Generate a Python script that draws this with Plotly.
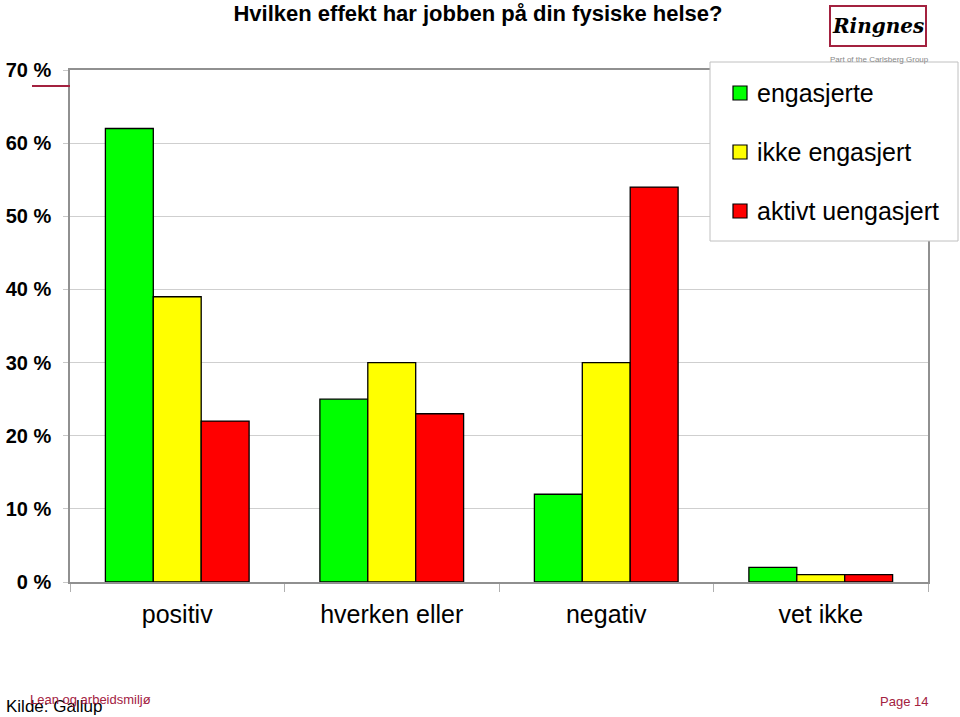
import plotly.graph_objects as go

categories = ["positiv", "hverken eller", "negativ", "vet ikke"]
series_names = ["engasjerte", "ikke engasjert", "aktivt uengasjert"]
engasjerte = [62, 25, 12, 2]
ikke_engasjert = [39, 30, 30, 1]
aktivt_uengasjert = [22, 23, 54, 1]
series_values = [engasjerte, ikke_engasjert, aktivt_uengasjert]
colors = ["#00ff00", "#ffff00", "#ff0000"]
y_tickvals = [0, 10, 20, 30, 40, 50, 60, 70]
y_ticktext = ["0 %", "10 %", "20 %", "30 %", "40 %", "50 %", "60 %", "70 %"]

W, H = 960, 717
L, R, T, B = 70, 32, 70, 135
PW = W - L - R
PH = H - T - B

def px(x):
    return (x - L) / PW

def py(y):
    return (H - B - y) / PH

fig = go.Figure()
for name, vals, c in zip(series_names, series_values, colors):
    fig.add_trace(go.Bar(
        x=categories, y=vals, name=name,
        marker=dict(color=c, line=dict(color="black", width=1.3)),
        showlegend=False,
    ))

font = "Liberation Sans, Arial, sans-serif"
shapes = []
annotations = []

# legend box
shapes.append(dict(type="rect", xref="paper", yref="paper",
                   x0=px(710), x1=px(958), y0=py(241), y1=py(62),
                   fillcolor="white", line=dict(color="#c0c0c0", width=1), layer="above"))
for i, (name, c) in enumerate(zip(series_names, colors)):
    yc = 93 + i * 59
    shapes.append(dict(type="rect", xref="paper", yref="paper",
                       x0=px(733), x1=px(747), y0=py(yc + 7), y1=py(yc - 7),
                       fillcolor=c, line=dict(color="black", width=1.2), layer="above"))
    annotations.append(dict(xref="paper", yref="paper", x=px(755), y=py(yc),
                            text=name, showarrow=False, xanchor="left", yanchor="middle",
                            font=dict(family=font, size=25, color="black")))

# decorative maroon line near 70 %
shapes.append(dict(type="line", xref="paper", yref="paper",
                   x0=px(32), x1=px(70), y0=py(86), y1=py(86),
                   line=dict(color="#a3213f", width=2)))

# logo
shapes.append(dict(type="rect", xref="paper", yref="paper",
                   x0=px(830), x1=px(926), y0=py(46), y1=py(6),
                   fillcolor="white", line=dict(color="#a3213f", width=2)))
annotations.append(dict(xref="paper", yref="paper", x=px(878), y=py(26),
                        text="<b><i>Ringnes</i></b>", showarrow=False,
                        xanchor="center", yanchor="middle",
                        font=dict(family="DejaVu Serif", size=20, color="black")))
annotations.append(dict(xref="paper", yref="paper", x=px(879), y=py(59),
                        text="Part of the Carlsberg Group", showarrow=False,
                        xanchor="center", yanchor="middle",
                        font=dict(family=font, size=8, color="#888888")))

# footer
annotations.append(dict(xref="paper", yref="paper", x=px(4), y=py(706),
                        text="Kilde: Gallup", showarrow=False, xanchor="left", yanchor="middle",
                        font=dict(family=font, size=17, color="black")))
annotations.append(dict(xref="paper", yref="paper", x=px(28), y=py(699),
                        text="Lean og arbeidsmiljø", showarrow=False, xanchor="left", yanchor="middle",
                        font=dict(family=font, size=13, color="#a3213f")))
annotations.append(dict(xref="paper", yref="paper", x=px(930), y=py(701),
                        text="Page 14", showarrow=False, xanchor="right", yanchor="middle",
                        font=dict(family=font, size=13, color="#a3213f")))

fig.update_layout(
    width=W, height=H,
    margin=dict(l=L, r=R, t=T, b=B, autoexpand=False),
    paper_bgcolor="white", plot_bgcolor="white",
    barmode="group", bargap=0.33, bargroupgap=0,
    title=dict(text="<b>Hvilken effekt har jobben på din fysiske helse?</b>",
               x=478 / W, xanchor="center", y=1 - 13 / H, yanchor="middle",
               yref="container", font=dict(family=font, size=22, color="black")),
    shapes=shapes, annotations=annotations,
    xaxis=dict(showline=True, linecolor="#909090", linewidth=1.5, mirror=True,
               ticks="outside", tickson="boundaries", ticklen=8, tickcolor="#b0b0b0",
               tickfont=dict(family=font, size=25, color="black"),
               ticklabelstandoff=9, showgrid=False, automargin=False),
    yaxis=dict(range=[0, 70], tickvals=y_tickvals, ticktext=y_ticktext,
               showline=True, linecolor="#909090", linewidth=1.5, mirror=True,
               ticks="outside", ticklen=5, tickcolor="#c8c8c8",
               showgrid=True, gridcolor="#cfcfcf", gridwidth=1,
               tickfont=dict(family=font, size=20, color="black", weight="bold"),
               ticklabelstandoff=8, zeroline=False, automargin=False),
)

fig.write_html("out.html")
